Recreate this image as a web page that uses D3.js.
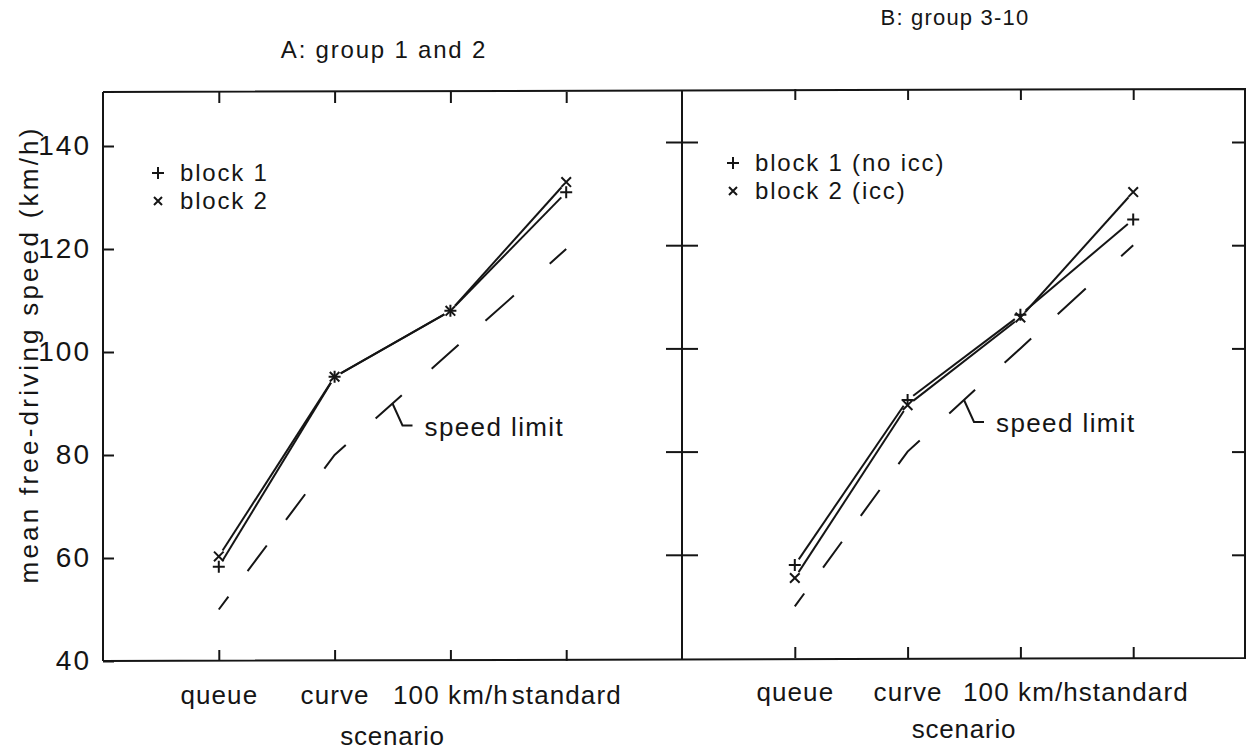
<!DOCTYPE html>
<html>
<head>
<meta charset="utf-8">
<script src="https://cdn.jsdelivr.net/npm/d3@7"></script>
<style>
  body { margin: 0; background: #fff; }
  svg text { font-family: "Liberation Sans", Arial, sans-serif; fill: #151515; }
</style>
</head>
<body>
<svg id="chart" width="1246" height="751"></svg>
<script>
// Scenarios on the x axis and the speed scale
const scenarios = ["queue", "curve", "100 km/h", "standard"];
const yTicks = [40, 60, 80, 100, 120, 140];
const speedLimit = [50, 80, 100, 120];

// Mean free-driving speed (km/h), group 1 and 2
const groupA_block1 = [58.3, 95.2, 108, 131];
const groupA_block2 = [60.3, 95.2, 108, 133];
// Mean free-driving speed (km/h), group 3-10
const groupB_block1 = [58, 90, 106.5, 125];
const groupB_block2 = [55.5, 89, 106, 130.3];

const titles = ["A: group 1 and 2", "B: group 3-10"];
const legendA = ["block 1", "block 2"];
const legendB = ["block 1 (no icc)", "block 2 (icc)"];
const yLabel = "mean free-driving speed (km/h)";
const xLabel = "scenario";
const limitLabel = "speed limit";

const svg = d3.select("#chart");
svg.append("rect").attr("width", 1246).attr("height", 751).attr("fill", "#fff");
const ink = "#151515";

const panels = [
  { x0: 103, x1: 682, top: 92, bottom: 661, yr: [661, 146],
    series: [groupA_block1, groupA_block2], legend: legendA,
    title: titles[0], titleX: 384, titleY: 58, titleSize: 24, titleSpacing: 1.8,
    legendX: 158, legendY: 173, xLabelY: 745, showY: true },
  { x0: 682, x1: 1246, top: 89, bottom: 658, yr: [658, 142],
    series: [groupB_block1, groupB_block2], legend: legendB,
    title: titles[1], titleX: 955, titleY: 25, titleSize: 22, titleSpacing: 1.2,
    legendX: 733, legendY: 163, xLabelY: 738, showY: false }
];

// plus for block 1, cross for block 2
function marker(g, type, cx, cy, r) {
  const p = type === 0
    ? `M${cx - r},${cy}H${cx + r}M${cx},${cy - r}V${cy + r}`
    : `M${cx - r * 0.8},${cy - r * 0.8}L${cx + r * 0.8},${cy + r * 0.8}M${cx - r * 0.8},${cy + r * 0.8}L${cx + r * 0.8},${cy - r * 0.8}`;
  g.append("path").attr("d", p).attr("stroke", ink).attr("stroke-width", 2).attr("fill", "none");
}

// outer frame: one continuous top and bottom edge across both panels
const L = panels[0], R = panels[1];
svg.append("path")
  .attr("d", `M${L.x0},${L.top}L${R.x1},${R.top}M${L.x0},${L.bottom}L${R.x1},${R.bottom}` +
             `M${L.x0},${L.top}V${L.bottom}M${R.x0},${(L.top + R.top) / 2}V${(L.bottom + R.bottom) / 2}` +
             `M${R.x1 - 1},${R.top}V${R.bottom}`)
  .attr("fill", "none").attr("stroke", ink).attr("stroke-width", 2);

panels.forEach((P, pi) => {
  const g = svg.append("g");
  const x = d3.scaleLinear().domain([-1, scenarios.length]).range([P.x0, P.x1]);
  const y = d3.scaleLinear().domain([40, 140]).range(P.yr);
  const idx = d3.range(scenarios.length);

  // bottom axis with scenario labels
  const xb = g.append("g").attr("transform", `translate(0,${P.bottom})`)
    .call(d3.axisBottom(x).tickValues(idx).tickFormat(i => scenarios[i])
      .tickSizeInner(-11).tickSizeOuter(0).tickPadding(25));
  // top axis, ticks only
  g.append("g").attr("transform", `translate(0,${P.top})`)
    .call(d3.axisTop(x).tickValues(idx).tickFormat("")
      .tickSizeInner(-11).tickSizeOuter(0));

  if (P.showY) {
    g.append("g").attr("transform", `translate(${P.x0},0)`)
      .call(d3.axisLeft(y).tickValues(yTicks).tickFormat(d3.format("d"))
        .tickSizeInner(-11).tickSizeOuter(0).tickPadding(12))
      .call(a => a.selectAll("text").attr("font-size", 28).attr("letter-spacing", 2));
  } else {
    // ticks crossing the shared divider
    g.append("g").attr("transform", `translate(${P.x0},0)`)
      .call(d3.axisLeft(y).tickValues(yTicks.slice(1)).tickFormat("").tickSizeInner(16).tickSizeOuter(0));
    g.append("g").attr("transform", `translate(${P.x0},0)`)
      .call(d3.axisRight(y).tickValues(yTicks.slice(1)).tickFormat("").tickSizeInner(16).tickSizeOuter(0));
    g.append("g").attr("transform", `translate(${P.x1},0)`)
      .call(d3.axisRight(y).tickValues(yTicks.slice(1)).tickFormat("").tickSizeInner(-14).tickSizeOuter(0));
  }
  g.selectAll(".domain").remove();
  g.selectAll(".tick line").attr("stroke", ink).attr("stroke-width", 2);
  xb.selectAll("text").attr("font-size", 26).attr("letter-spacing", 1.1);
  g.selectAll(".tick text").attr("fill", ink);

  // speed limit, dashed
  const line = d3.line().x((d, i) => x(i)).y(d => y(d));
  g.append("path").datum(speedLimit).attr("d", line)
    .attr("fill", "none").attr("stroke", ink).attr("stroke-width", 2)
    .attr("stroke-dasharray", "32,32,32,32,32,32,32,40,35,40,36,36,38,48,40,20")
    .attr("stroke-dashoffset", 16);

  // callout for the speed limit line
  const ax = (x(1) + x(2)) / 2, ay = (y(speedLimit[1]) + y(speedLimit[2])) / 2;
  g.append("path")
    .attr("d", `M${ax},${ay}L${ax + 10},${ay + 22}H${ax + 20}`)
    .attr("fill", "none").attr("stroke", ink).attr("stroke-width", 2);
  g.append("text").attr("x", ax + 32).attr("y", ay + 32)
    .attr("font-size", 26).attr("letter-spacing", 1.4).text(limitLabel);

  // block lines, drawn per segment with a small gap at each marker
  const gap = 7;
  P.series.forEach((vals, si) => {
    for (let i = 0; i < vals.length - 1; i++) {
      const x1 = x(i), y1 = y(vals[i]), x2 = x(i + 1), y2 = y(vals[i + 1]);
      const len = Math.hypot(x2 - x1, y2 - y1), ux = (x2 - x1) / len, uy = (y2 - y1) / len;
      g.append("line")
        .attr("x1", x1 + ux * gap).attr("y1", y1 + uy * gap)
        .attr("x2", x2 - ux * gap).attr("y2", y2 - uy * gap)
        .attr("stroke", ink).attr("stroke-width", 2);
    }
    vals.forEach((v, i) => marker(g, si, x(i), y(v), 6));
  });

  // legend
  P.legend.forEach((t, li) => {
    const ly = P.legendY + li * 28;
    marker(g, li, P.legendX, ly, li === 0 ? 6 : 5);
    g.append("text").attr("x", P.legendX + 22).attr("y", ly + 8)
      .attr("font-size", 24).attr("letter-spacing", 1.8).text(t);
  });

  // titles and axis labels
  svg.append("text").attr("x", P.titleX).attr("y", P.titleY).attr("text-anchor", "middle")
    .attr("font-size", P.titleSize).attr("letter-spacing", P.titleSpacing).text(P.title);
  svg.append("text").attr("x", (P.x0 + P.x1) / 2).attr("y", P.xLabelY).attr("text-anchor", "middle")
    .attr("font-size", 26).attr("letter-spacing", 0.8).text(xLabel);
  if (P.showY) {
    svg.append("text").attr("transform", `translate(38,356) rotate(-90)`)
      .attr("text-anchor", "middle").attr("font-size", 26)
      .attr("textLength", 455).attr("lengthAdjust", "spacing").text(yLabel);
  }
});
</script>
</body>
</html>
